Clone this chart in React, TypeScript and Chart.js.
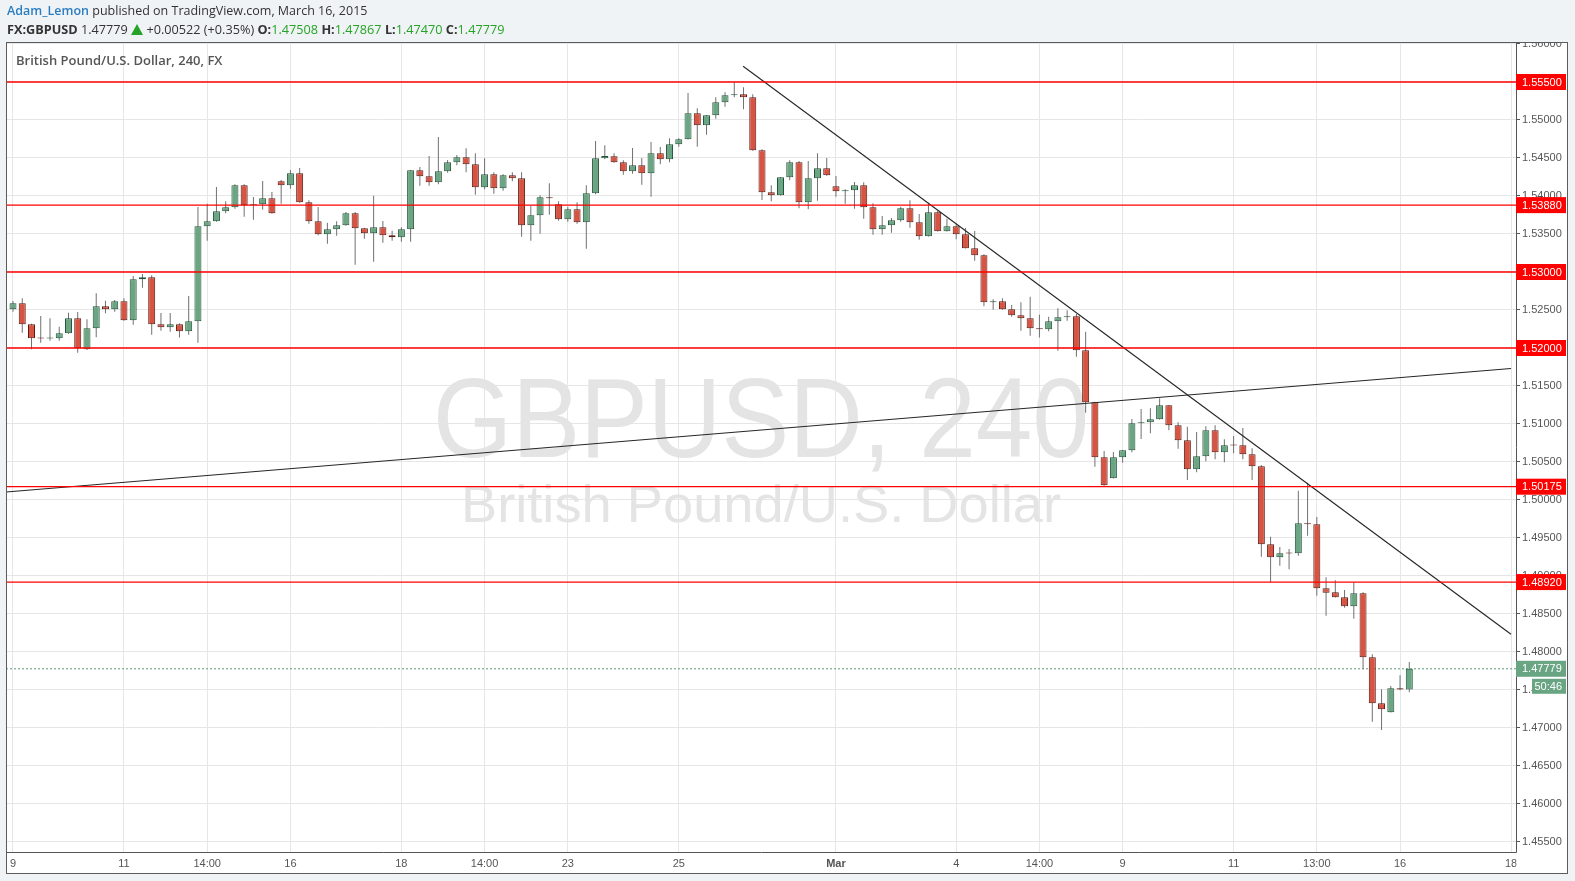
import React, { useEffect, useRef } from "react";
import { Chart, registerables } from "chart.js";

Chart.register(...registerables);

// ---------- data ----------
const firstCandleIndex = -1; // candle index of the first entry (partly hidden at left edge)

const opens = [
  1.52215, 1.52509, 1.52588, 1.52312, 1.5213, 1.52126, 1.52128, 1.52193, 1.52391, 1.51983,
  1.52259, 1.52549, 1.52509, 1.52614, 1.52364, 1.52904, 1.5293, 1.52312, 1.52272, 1.52312,
  1.52221, 1.52351, 1.53601, 1.53667, 1.53799, 1.53851, 1.54141, 1.53878, 1.53891, 1.5397,
  1.54193, 1.54141, 1.54299, 1.53917, 1.53667, 1.53496, 1.53562, 1.53614, 1.53772, 1.53575,
  1.53509, 1.53588, 1.53483, 1.53457, 1.53562, 1.54338, 1.54259, 1.5418, 1.54325, 1.54443,
  1.54509, 1.54417, 1.54114, 1.54286, 1.54101, 1.54272, 1.54233, 1.53614, 1.53746, 1.53983,
  1.53891, 1.53693, 1.53825, 1.53654, 1.54036, 1.54496, 1.54522, 1.54443, 1.54325, 1.54404,
  1.54299, 1.54562, 1.54483, 1.5468, 1.54746, 1.55088, 1.5493, 1.55062, 1.55233, 1.55325,
  1.55338, 1.55299, 1.54601, 1.54049, 1.54009, 1.54246, 1.54443, 1.53917, 1.54233, 1.54364,
  1.54128, 1.54062, 1.54075, 1.54141, 1.53851, 1.53562, 1.53614, 1.5368, 1.53838, 1.53654,
  1.5347, 1.53786, 1.53536, 1.53601, 1.53496, 1.53312, 1.5322, 1.52601, 1.52614, 1.52509,
  1.5243, 1.52391, 1.52259, 1.52246, 1.52351, 1.52404, 1.52417, 1.5197, 1.51286, 1.50562,
  1.50286, 1.50562, 1.50654, 1.51009, 1.51022, 1.51062, 1.51246, 1.50983, 1.50786, 1.50404,
  1.50575, 1.50917, 1.50628, 1.50722, 1.5072, 1.50601, 1.50443, 1.49417, 1.49246, 1.49301,
  1.49299, 1.49693, 1.4968, 1.48838, 1.48786, 1.4872, 1.48601, 1.48772, 1.4793, 1.47325,
  1.47207, 1.47522, 1.47508,
];

const highs = [
  1.52553, 1.52618, 1.52654, 1.52318, 1.52421, 1.52391, 1.5228, 1.52464, 1.52474, 1.52378,
  1.5272, 1.52622, 1.52632, 1.52654, 1.52947, 1.52974, 1.52957, 1.52461, 1.52461, 1.52325,
  1.52684, 1.53855, 1.53899, 1.54118, 1.5393, 1.54154, 1.54154, 1.53987, 1.54197, 1.54053,
  1.54211, 1.54342, 1.54368, 1.53943, 1.53855, 1.53649, 1.53667, 1.53789, 1.53789, 1.5358,
  1.54004, 1.53671, 1.53543, 1.53588, 1.54342, 1.54382, 1.54526, 1.54776, 1.54474, 1.5454,
  1.54628, 1.54562, 1.54496, 1.54312, 1.54286, 1.54312, 1.54312, 1.53872, 1.54009, 1.54167,
  1.5393, 1.53859, 1.53917, 1.54141, 1.54724, 1.54667, 1.54562, 1.5447, 1.54632, 1.545,
  1.54711, 1.54645, 1.54759, 1.54759, 1.55355, 1.55154, 1.55066, 1.55299, 1.55364, 1.55496,
  1.5543, 1.55338, 1.54614, 1.54141, 1.5425, 1.5447, 1.54461, 1.54461, 1.54562, 1.545,
  1.54263, 1.54088, 1.54184, 1.5418, 1.53904, 1.53737, 1.5371, 1.53859, 1.53943, 1.53763,
  1.53912, 1.53803, 1.53701, 1.53628, 1.53579, 1.5354, 1.53233, 1.52641, 1.52654, 1.52566,
  1.52601, 1.52675, 1.52438, 1.52412, 1.52522, 1.52496, 1.52447, 1.52214, 1.51294, 1.50645,
  1.50632, 1.50658, 1.51066, 1.51197, 1.51207, 1.51338, 1.5125, 1.51022, 1.50964, 1.50895,
  1.5097, 1.50983, 1.50799, 1.50842, 1.50947, 1.5068, 1.5046, 1.49517, 1.49382, 1.49355,
  1.50122, 1.50228, 1.49776, 1.48983, 1.48943, 1.48816, 1.48917, 1.48786, 1.4797, 1.47509,
  1.47553, 1.47693, 1.47867,
];

const lows = [
  1.52197, 1.52478, 1.52201, 1.51983, 1.5207, 1.52096, 1.52096, 1.52188, 1.51938, 1.51974,
  1.52141, 1.52457, 1.52478, 1.5236, 1.52307, 1.52793, 1.52175, 1.52228, 1.52215, 1.52137,
  1.52175, 1.5207, 1.53412, 1.53662, 1.53772, 1.53833, 1.53728, 1.53688, 1.5382, 1.53768,
  1.53899, 1.54096, 1.53912, 1.53636, 1.53483, 1.53372, 1.53478, 1.5361, 1.53096, 1.53438,
  1.53136, 1.53386, 1.53412, 1.53399, 1.53399, 1.54136, 1.54136, 1.54154, 1.54307, 1.54404,
  1.54312, 1.54017, 1.54088, 1.5403, 1.5407, 1.54193, 1.53464, 1.53412, 1.53504, 1.53754,
  1.53675, 1.53662, 1.53636, 1.53307, 1.54022, 1.54483, 1.54438, 1.5428, 1.54293, 1.54149,
  1.53991, 1.54417, 1.54443, 1.54649, 1.54742, 1.54649, 1.54807, 1.55017, 1.55175, 1.55299,
  1.55141, 1.54597, 1.53947, 1.5393, 1.54005, 1.54207, 1.53838, 1.53825, 1.53938, 1.54268,
  1.53991, 1.53899, 1.53833, 1.53701, 1.53491, 1.53491, 1.53517, 1.53662, 1.53583, 1.53425,
  1.53466, 1.53532, 1.53532, 1.5343, 1.53308, 1.53149, 1.52549, 1.52504, 1.52504, 1.52412,
  1.52228, 1.52162, 1.52137, 1.52221, 1.51965, 1.52359, 1.51886, 1.51149, 1.50438, 1.50189,
  1.50282, 1.50491, 1.50628, 1.50803, 1.50878, 1.51058, 1.50917, 1.50675, 1.50263, 1.50364,
  1.50509, 1.50536, 1.50496, 1.50614, 1.50536, 1.50263, 1.49254, 1.48917, 1.49136, 1.49088,
  1.49267, 1.4953, 1.48741, 1.48478, 1.48716, 1.48583, 1.48438, 1.47772, 1.47083, 1.46974,
  1.47203, 1.47496, 1.4747,
];

const closes = [
  1.52513, 1.52588, 1.52312, 1.52128, 1.52126, 1.5213, 1.52193, 1.52391, 1.51996, 1.52259,
  1.52549, 1.52509, 1.52614, 1.52364, 1.52904, 1.5293, 1.52312, 1.52272, 1.52312, 1.52221,
  1.52351, 1.53601, 1.53667, 1.53799, 1.53851, 1.54141, 1.53878, 1.53891, 1.5397, 1.53772,
  1.54141, 1.54299, 1.53917, 1.53667, 1.53496, 1.53562, 1.53614, 1.53772, 1.53575, 1.53509,
  1.53588, 1.53483, 1.53457, 1.53562, 1.54338, 1.54259, 1.5418, 1.54325, 1.54443, 1.54509,
  1.54417, 1.54114, 1.54286, 1.54101, 1.54272, 1.54233, 1.53614, 1.53746, 1.53983, 1.5397,
  1.53693, 1.53825, 1.53654, 1.54036, 1.54496, 1.54526, 1.54443, 1.54325, 1.54404, 1.54299,
  1.54562, 1.54483, 1.5468, 1.54746, 1.55088, 1.5493, 1.55062, 1.55233, 1.55325, 1.55338,
  1.55299, 1.54601, 1.54049, 1.54009, 1.54246, 1.54443, 1.53917, 1.54233, 1.54364, 1.54272,
  1.54062, 1.54075, 1.54141, 1.53851, 1.53562, 1.53614, 1.5368, 1.53838, 1.53654, 1.5347,
  1.53786, 1.53536, 1.53601, 1.53496, 1.53312, 1.5322, 1.52601, 1.52614, 1.52509, 1.5243,
  1.52391, 1.52259, 1.52246, 1.52351, 1.52404, 1.52417, 1.5197, 1.51286, 1.50562, 1.50193,
  1.50562, 1.50654, 1.51009, 1.51022, 1.51062, 1.51246, 1.50983, 1.50786, 1.50404, 1.50575,
  1.50917, 1.50628, 1.5072, 1.50718, 1.50601, 1.50443, 1.49417, 1.49246, 1.49299, 1.49297,
  1.49693, 1.4968, 1.48838, 1.4878, 1.4872, 1.48601, 1.48772, 1.4793, 1.47325, 1.47246,
  1.47522, 1.47508, 1.47779,
];

const timeTickIndex = [0, 12, 21, 30, 42, 51, 60, 72, 89, 102, 111, 120, 132, 141, 150, 162];
const timeTickLabels = ["9", "11", "14:00", "16", "18", "14:00", "23", "25", "Mar", "4", "14:00", "9", "11", "13:00", "16", "18"];

const priceTicks = [
  1.455, 1.46, 1.465, 1.47, 1.475, 1.48, 1.485, 1.49, 1.495, 1.5, 1.505,
  1.51, 1.515, 1.52, 1.525, 1.53, 1.535, 1.54, 1.545, 1.55, 1.555, 1.56,
];

const levelPrices = [1.555, 1.5388, 1.53, 1.52, 1.50175, 1.4892];
const levelLabels = ["1.55500", "1.53880", "1.53000", "1.52000", "1.50175", "1.48920"];

const risingTrendX = [-0.757, 162];
const risingTrendY = [1.50105, 1.5173];
const fallingTrendX = [78.96, 162];
const fallingTrendY = [1.55707, 1.48233];

const lastPrice = 1.47779;
const lastPriceLabel = "1.47779";
const countdownLabel = "50:46";

const xMin = -0.757;
const xMax = 162.54;
const yMin = 1.453684;
const yMax = 1.560263;

// ---------- styles ----------
const FONT = '"Liberation Sans", Arial, sans-serif';
const UP_FILL = "#6ba583";
const UP_BORDER = "#225437";
const DOWN_FILL = "#d75442";
const DOWN_BORDER = "#5b1a13";
const GREEN_TEXT = "#26a326";

const chartPlugin = {
  id: "tvDecor",
  beforeDraw(chart: any) {
    const ctx = chart.ctx;
    ctx.save();
    ctx.fillStyle = "#ffffff";
    ctx.fillRect(6, 42, 1562, 832);
    ctx.beginPath();
    ctx.rect(6, 42, 1562, 832);
    ctx.clip();
  },
  beforeDatasetsDraw(chart: any) {
    const ctx = chart.ctx;
    const a = chart.chartArea;
    // cover the part of time labels running under the price axis
    ctx.save();
    ctx.fillStyle = "#ffffff";
    ctx.fillRect(a.right + 0.5, a.bottom + 0.5, 60, 30);
    // watermark
    const cx = (a.left + a.right) / 2;
    ctx.fillStyle = "#e4e4e4";
    ctx.textAlign = "center";
    ctx.textBaseline = "alphabetic";
    const stretched = (text: string, font: string, baseline: number, width: number) => {
      ctx.font = font;
      const w = ctx.measureText(text).width;
      ctx.save();
      ctx.translate(cx, baseline);
      ctx.scale(width / w, 1);
      ctx.fillText(text, 0, 0);
      ctx.restore();
    };
    stretched("GBPUSD, 240", "114px " + FONT, 457, 656);
    stretched("British Pound/U.S. Dollar", "52px " + FONT, 522, 600);
    ctx.restore();
  },
  afterDraw(chart: any) {
    const ctx = chart.ctx;
    ctx.restore(); // end panel clip
    const a = chart.chartArea;
    const ys = chart.scales.y;
    ctx.save();
    ctx.font = "11px " + FONT;
    ctx.textBaseline = "middle";
    ctx.textAlign = "left";
    const box = (y: number, h: number, x: number, w: number, bg: string, text: string, tx: number) => {
      ctx.fillStyle = bg;
      ctx.fillRect(x, y, w, h);
      ctx.fillStyle = "#ffffff";
      ctx.fillText(text, tx, y + h / 2 + 0.5);
    };
    levelPrices.forEach((p, i) => {
      const py = ys.getPixelForValue(p);
      box(py - 8, 16, a.right, 50, "#ff0000", levelLabels[i], a.right + 6);
    });
    const lp = ys.getPixelForValue(lastPrice);
    box(lp - 8, 16, a.right, 50, "#6aa583", lastPriceLabel, a.right + 6);
    box(lp + 10, 15, a.right + 16, 34, "#6aa583", countdownLabel, a.right + 18.5);
    // panel border
    ctx.strokeStyle = "#5c5c5c";
    ctx.lineWidth = 1;
    ctx.strokeRect(6.5, 42.5, 1561, 831);
    ctx.restore();
  },
};

export default function App() {
  const canvasRef = useRef<HTMLCanvasElement | null>(null);

  useEffect(() => {
    const canvas = canvasRef.current;
    if (!canvas) return;
    const candleX = opens.map((_, i) => firstCandleIndex + i);
    const isUp = opens.map((o, i) => closes[i] >= o);

    const levelSets = levelPrices.map((p) => ({
      type: "line",
      data: [
        { x: xMin, y: p },
        { x: xMax, y: p },
      ],
      borderColor: "#ff0000",
      borderWidth: 1.3,
      pointRadius: 0,
      fill: false,
      order: 0,
    }));

    const chart = new Chart(canvas, {
      type: "bar",
      data: {
        datasets: [
          ...levelSets,
          {
            type: "line",
            data: risingTrendX.map((x, i) => ({ x, y: risingTrendY[i] })),
            borderColor: "#262626",
            borderWidth: 1.1,
            pointRadius: 0,
            fill: false,
            order: 0,
          },
          {
            type: "line",
            data: fallingTrendX.map((x, i) => ({ x, y: fallingTrendY[i] })),
            borderColor: "#262626",
            borderWidth: 1.1,
            pointRadius: 0,
            fill: false,
            order: 0,
          },
          {
            type: "bar",
            data: candleX.map((x, i) => ({ x, y: [opens[i], closes[i]] })),
            backgroundColor: isUp.map((u) => (u ? UP_FILL : DOWN_FILL)),
            borderColor: isUp.map((u) => (u ? UP_BORDER : DOWN_BORDER)),
            borderWidth: 1,
            borderSkipped: false,
            barThickness: 7,
            grouped: false,
            minBarLength: 1,
            inflateAmount: 0,
            order: 1,
          },
          {
            type: "bar",
            data: candleX.map((x, i) => ({ x, y: [lows[i], highs[i]] })),
            backgroundColor: "#707070",
            borderWidth: 0,
            barThickness: 1,
            grouped: false,
            inflateAmount: 0,
            order: 2,
          },
          {
            type: "line",
            data: [
              { x: xMin, y: lastPrice },
              { x: xMax, y: lastPrice },
            ],
            borderColor: "#5f9d78",
            borderWidth: 1,
            borderDash: [2, 2],
            pointRadius: 0,
            fill: false,
            order: 3,
          },
        ],
      } as any,
      options: {
        animation: false,
        responsive: false,
        devicePixelRatio: 1,
        layout: { padding: { left: 6, top: 42, right: 7, bottom: 7 } },
        plugins: { legend: { display: false }, tooltip: { enabled: false } },
        scales: {
          x: {
            type: "linear",
            position: "bottom",
            min: xMin,
            max: xMax,
            offset: false,
            grid: { color: "#e6e6e6", drawTicks: false, offset: false, lineWidth: 1 },
            border: { display: true, color: "#555555", width: 1 },
            ticks: {
              autoSkip: false,
              maxRotation: 0,
              minRotation: 0,
              padding: 5,
              color: "#555555",
              font: (c: any) => ({
                family: FONT,
                size: 11,
                weight: c.tick && c.tick.value === 89 ? "bold" : "normal",
              }),
              callback: (v: any) => {
                const k = timeTickIndex.indexOf(Number(v));
                return k >= 0 ? timeTickLabels[k] : "";
              },
            },
            afterBuildTicks: (s: any) => {
              s.ticks = timeTickIndex.map((v) => ({ value: v }));
            },
            afterFit: (s: any) => {
              s.height = 22;
              s.paddingLeft = 0;
              s.paddingRight = 0;
            },
          },
          y: {
            type: "linear",
            position: "right",
            min: yMin,
            max: yMax,
            beginAtZero: false,
            grid: { color: "#e6e6e6", tickColor: "#555555", tickLength: 4, drawTicks: true },
            border: { display: true, color: "#555555", width: 1 },
            ticks: {
              color: "#555555",
              padding: 2,
              font: { family: FONT, size: 11 },
              callback: (v: any) => Number(v).toFixed(5),
            },
            afterBuildTicks: (s: any) => {
              s.ticks = priceTicks.map((v) => ({ value: v }));
            },
            afterFit: (s: any) => {
              s.width = 52;
              s.paddingTop = 0;
              s.paddingBottom = 0;
            },
          },
        },
      } as any,
      plugins: [chartPlugin as any],
    });
    return () => chart.destroy();
  }, []);

  const hdr: React.CSSProperties = {
    position: "absolute",
    left: 7,
    fontFamily: '"Open Sans", sans-serif',
    fontSize: 12.5,
    lineHeight: "18px",
    color: "#333333",
    whiteSpace: "nowrap",
  };
  const g: React.CSSProperties = { color: GREEN_TEXT };

  return (
    <div
      style={{
        position: "fixed",
        left: 0,
        top: 0,
        width: 1575,
        height: 881,
        background: "#f0f3f6",
        overflow: "hidden",
      }}
    >
      <canvas
        ref={canvasRef}
        width={1575}
        height={881}
        style={{ position: "absolute", left: 0, top: 0, width: 1575, height: 881 }}
      />
      <div style={{ ...hdr, top: 2 }}>
        <span style={{ color: "#2a7dc0", fontWeight: 600 }}>Adam_Lemon</span> published on TradingView.com, March 16, 2015
      </div>
      <div style={{ ...hdr, top: 20, fontSize: 12.7 }}>
        <b>FX:GBPUSD</b> 1.47779{" "}
        <span
          style={{
            display: "inline-block",
            width: 0,
            height: 0,
            borderLeft: "6px solid transparent",
            borderRight: "6px solid transparent",
            borderBottom: "11px solid " + GREEN_TEXT,
            verticalAlign: "-1px",
          }}
        />{" "}
        +0.00522 (+0.35%) <b>O:</b>
        <span style={g}>1.47508</span> <b>H:</b>
        <span style={g}>1.47867</span> <b>L:</b>
        <span style={g}>1.47470</span> <b>C:</b>
        <span style={g}>1.47779</span>
      </div>
      <div
        style={{
          ...hdr,
          left: 16,
          top: 51,
          fontSize: 13,
          color: "#555555",
          fontWeight: 600,
        }}
      >
        British Pound/U.S. Dollar, 240, FX
      </div>
    </div>
  );
}
